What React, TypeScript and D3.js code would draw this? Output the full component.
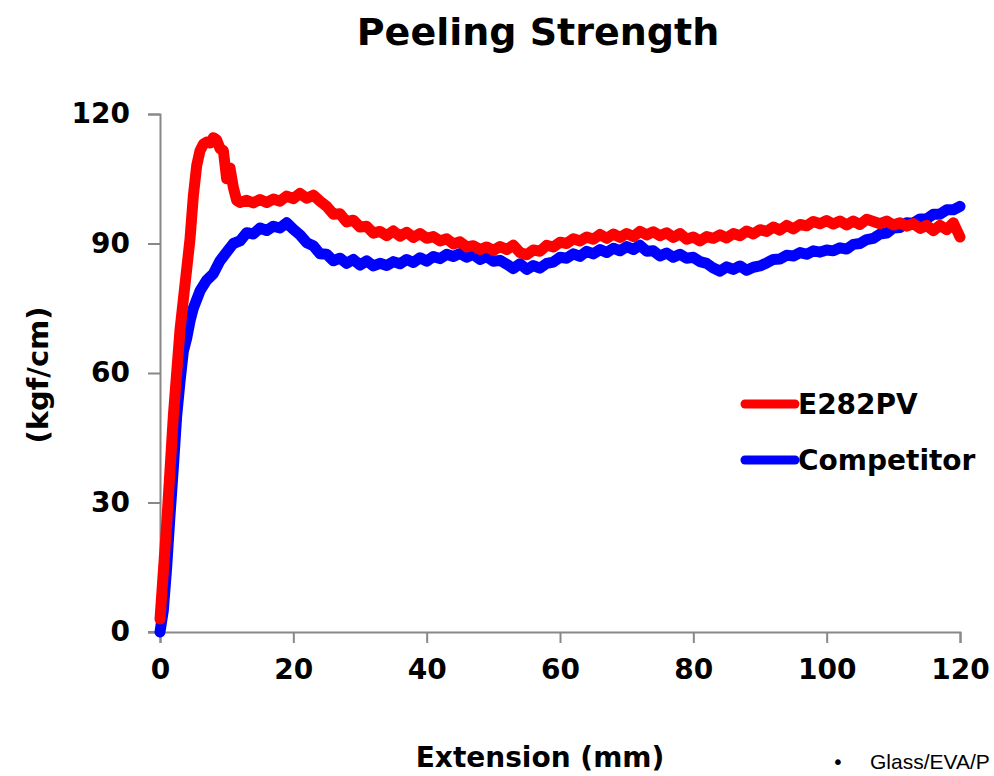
import React, { useEffect, useRef } from 'react';
import * as d3 from 'd3';

const seriesNames = ['E282PV', 'Competitor'];
const seriesColors = ['#ff0000', '#0000ff'];

const xTicks = [0, 20, 40, 60, 80, 100, 120];
const yTicks = [0, 30, 60, 90, 120];

// E282PV, extension (mm) and strength (kgf/cm)
const redX = [0, 1, 2, 3, 4, 4.5, 5, 5.5, 6, 6.5, 7, 7.5, 8, 8.5, 9, 9.5, 10, 10.5, 11, 11.5,
  12, 13, 14, 15, 16, 17, 18, 19, 20, 21, 22, 23, 24, 25, 26, 27, 28, 29, 30, 31, 32, 33, 34, 35,
  36, 37, 38, 39, 40, 41, 42, 43, 44, 45, 46, 47, 48, 49, 50, 51, 52, 53, 54, 55, 56, 57, 58, 59,
  60, 61, 62, 63, 64, 65, 66, 67, 68, 69, 70, 71, 72, 73, 74, 75, 76, 77, 78, 79, 80, 81, 82, 83,
  84, 85, 86, 87, 88, 89, 90, 91, 92, 93, 94, 95, 96, 97, 98, 99, 100, 101, 102, 103, 104, 105,
  106, 107, 108, 109, 110, 111, 112, 113, 114, 115, 116, 117, 118, 119, 120];
const redY = [3, 25, 50, 70, 84, 91, 101, 108, 111.5, 113, 113.5, 113.3, 114.5, 114, 112, 111.5, 105, 107.5, 103, 100,
  99.5, 100, 99.4, 100.2, 99.5, 100.3, 99.8, 101, 100.4, 101.6, 100.5, 101.2, 99.8, 98.6, 96.8, 96.9, 95, 95.4, 93.8, 94, 92.4, 92.8, 91.8, 92.9,
  91.7, 92.6, 91.4, 92.3, 91.2, 91.6, 90.6, 91.1, 89.9, 90.4, 89.2, 89.5, 88.6, 89.2, 88.4, 89.3, 88.6, 89.6, 87.9, 87.4, 88.5, 88.2, 89.6, 89.2,
  90.3, 90, 91.1, 90.6, 91.5, 91, 92.1, 91.2, 92.2, 91.4, 92.3, 91.6, 92.8, 92, 92.7, 91.8, 92.5, 91.4, 92.3, 91, 91.5, 90.6, 91.6, 91.2,
  92, 91.3, 92.3, 91.8, 92.9, 92.2, 93.2, 92.8, 93.8, 93.1, 94.2, 93.4, 94.4, 94.1, 95.1, 94.6, 95.3, 94.5, 95.2, 94.3, 95.2, 94.4,
  95.6, 95.1, 94.6, 95.2, 94.3, 94.8, 94, 94.6, 93.5, 94.2, 93, 94.2, 93.2, 94.8, 91.5];

// Competitor
const blueX = [0, 0.5, 1, 1.5, 2, 2.5, 3, 3.5, 4, 4.5, 5, 6, 7, 8, 9, 10, 11,
  12, 13, 14, 15, 16, 17, 18, 19, 20, 21, 22, 23, 24, 25, 26, 27, 28, 29, 30, 31, 32, 33, 34, 35,
  36, 37, 38, 39, 40, 41, 42, 43, 44, 45, 46, 47, 48, 49, 50, 51, 52, 53, 54, 55, 56, 57, 58, 59,
  60, 61, 62, 63, 64, 65, 66, 67, 68, 69, 70, 71, 72, 73, 74, 75, 76, 77, 78, 79, 80, 81, 82, 83,
  84, 85, 86, 87, 88, 89, 90, 91, 92, 93, 94, 95, 96, 97, 98, 99, 100, 101, 102, 103, 104, 105,
  106, 107, 108, 109, 110, 111, 112, 113, 114, 115, 116, 117, 118, 119, 120];
const blueY = [0, 5, 15, 27, 38, 50, 58, 65, 68, 72, 75, 79, 81.5, 83, 86, 88, 90,
  90.6, 92.5, 92.2, 93.6, 93, 94, 93.6, 94.8, 93.3, 92, 90.2, 89.5, 87.6, 87.5, 86, 86.6, 85.4, 86.3, 85, 86, 84.8, 85.4, 84.9, 85.8,
  85.3, 86.3, 85.6, 86.7, 85.9, 87, 86.5, 87.5, 87, 87.7, 86.8, 87.5, 86.3, 87, 85.9, 86.1, 85.2, 84.2, 85.3, 84, 84.9, 84.3, 85.4, 85.7,
  86.8, 86.6, 87.6, 87, 88.2, 87.6, 88.6, 87.9, 88.9, 88.3, 89.3, 88.6, 89.6, 88.2, 88.3, 87.1, 87.8, 86.8, 87.5, 86.6, 86.8, 85.8, 85.4, 84.3,
  83.6, 84.6, 84, 84.8, 83.8, 84.5, 84.8, 85.5, 86.3, 86.4, 87.3, 87.1, 87.9, 87.5, 88.3, 88, 88.5, 88.3, 89, 88.7, 89.8, 90,
  90.9, 91.2, 92.2, 92.4, 93.6, 93.7, 94.8, 94.7, 95.7, 95.7, 96.8, 96.8, 97.8, 97.8, 98.6];

const font = '"DejaVu Sans", Verdana, sans-serif';

export default function App() {
  const ref = useRef<SVGSVGElement>(null);

  useEffect(() => {
    const svg = d3.select(ref.current);
    svg.selectAll('*').remove();

    const x = d3.scaleLinear().domain([0, 120]).range([160, 960]);
    const y = d3.scaleLinear().domain([0, 120]).range([632, 114]);
    const axisColor = '#888888';

    // title
    svg.append('text')
      .attr('x', 538).attr('y', 45)
      .attr('text-anchor', 'middle')
      .attr('font-family', font).attr('font-weight', 'bold').attr('font-size', 38)
      .text('Peeling Strength');

    // y axis
    const yAxis = svg.append('g')
      .attr('transform', `translate(${x(0)},0)`)
      .call(d3.axisLeft(y).tickValues(yTicks).tickSize(12).tickPadding(18));
    yAxis.select('.domain').attr('stroke', axisColor).attr('stroke-width', 2);
    yAxis.selectAll('.tick line').attr('stroke', axisColor).attr('stroke-width', 2);
    yAxis.selectAll('.tick text')
      .attr('font-family', font).attr('font-weight', 'bold').attr('font-size', 28).attr('fill', '#000');

    // x axis
    const xAxis = svg.append('g')
      .attr('transform', `translate(0,${y(0)})`)
      .call(d3.axisBottom(x).tickValues(xTicks).tickSize(11).tickPadding(16));
    xAxis.select('.domain').attr('stroke', axisColor).attr('stroke-width', 2);
    xAxis.selectAll('.tick line').attr('stroke', axisColor).attr('stroke-width', 2);
    xAxis.selectAll('.tick text')
      .attr('font-family', font).attr('font-weight', 'bold').attr('font-size', 28).attr('fill', '#000');
    svg.append('line')
      .attr('x1', 148).attr('x2', x(0)).attr('y1', y(0)).attr('y2', y(0))
      .attr('stroke', axisColor).attr('stroke-width', 2);

    // axis labels
    svg.append('text')
      .attr('x', 540).attr('y', 767)
      .attr('text-anchor', 'middle')
      .attr('font-family', font).attr('font-weight', 'bold').attr('font-size', 28)
      .text('Extension (mm)');
    svg.append('text')
      .attr('transform', 'translate(48,375) rotate(-90)')
      .attr('text-anchor', 'middle')
      .attr('font-family', font).attr('font-weight', 'bold').attr('font-size', 29)
      .text('(kgf/cm)');

    // lines
    const line = d3.line<[number, number]>()
      .x(d => x(d[0]))
      .y(d => y(d[1]));
    const data: [number, number][][] = [
      redX.map((v, i) => [v, redY[i]]),
      blueX.map((v, i) => [v, blueY[i]])
    ];
    [1, 0].forEach(i => {
      svg.append('path')
        .datum(data[i])
        .attr('d', line)
        .attr('fill', 'none')
        .attr('stroke', seriesColors[i])
        .attr('stroke-width', 11)
        .attr('stroke-linejoin', 'round')
        .attr('stroke-linecap', 'round');
    });

    // legend
    seriesNames.forEach((name, i) => {
      const ly = 404 + i * 56;
      svg.append('line')
        .attr('x1', 745).attr('x2', 795).attr('y1', ly).attr('y2', ly)
        .attr('stroke', seriesColors[i]).attr('stroke-width', 9)
        .attr('stroke-linecap', 'round');
      svg.append('text')
        .attr('x', 798).attr('y', ly + 10)
        .attr('font-family', font).attr('font-weight', 'bold').attr('font-size', 28)
        .text(name);
    });

    // footnote
    svg.append('text')
      .attr('x', 832).attr('y', 769)
      .attr('font-family', font).attr('font-size', 20)
      .text('•');
    svg.append('text')
      .attr('x', 870).attr('y', 769)
      .attr('font-family', '"Liberation Sans", Arial, sans-serif').attr('font-size', 21)
      .text('Glass/EVA/P');
  }, []);

  return (
    <div style={{ position: 'absolute', left: 0, top: 0 }}>
      <svg ref={ref} width={994} height={776} style={{ display: 'block', background: '#fff' }} />
    </div>
  );
}
